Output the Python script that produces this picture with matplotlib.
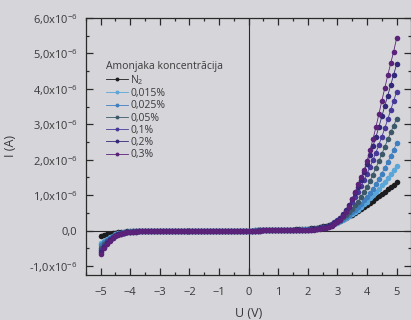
import numpy as np
import matplotlib
matplotlib.use('Agg')
import matplotlib.pyplot as plt

plt.rcParams['font.family'] = ['Open Sans', 'DejaVu Sans']
plt.rcParams['mathtext.fontset'] = 'custom'
plt.rcParams['mathtext.rm'] = 'Open Sans'

# voltage grid, -5.0 ... 5.0 V, step 0.1
U = np.round(np.arange(-50, 51) / 10, 1)

# current in 1e-6 A
I_N2 = [-0.16, -0.13, -0.11, -0.09, -0.07, -0.06, -0.05, -0.04, -0.03, -0.025,
        -0.02, -0.02, -0.015, -0.015, -0.01, -0.01, -0.01, -0.01, -0.005, -0.005,
        -0.005, -0.005, -0.005, -0.005, -0.005, -0.005, -0.005, -0.005, -0.005, -0.005,
        -0.005, -0.005, -0.005, 0.0, 0.0, 0.0, 0.0, 0.0, 0.0, 0.0,
        0.0, 0.0, 0.0, 0.0, 0.0, 0.0, 0.0, 0.0, 0.0, 0.0,
        0.0, 0.0, 0.005, 0.005, 0.005, 0.01, 0.01, 0.01, 0.015, 0.015,
        0.02, 0.02, 0.025, 0.025, 0.03, 0.03, 0.035, 0.04, 0.04, 0.045,
        0.05, 0.06, 0.07, 0.085, 0.10, 0.12, 0.14, 0.16, 0.19, 0.22,
        0.25, 0.28, 0.32, 0.36, 0.40, 0.44, 0.49, 0.55, 0.60, 0.66,
        0.72, 0.78, 0.84, 0.91, 0.97, 1.04, 1.10, 1.17, 1.23, 1.30,
        1.36]
I_0015 = [-0.36, -0.29, -0.23, -0.18, -0.14, -0.11, -0.08, -0.06, -0.045, -0.035,
          -0.025, -0.02, -0.02, -0.015, -0.015, -0.01, -0.01, -0.01, -0.01, -0.005,
          -0.005, -0.005, -0.005, -0.005, -0.005, -0.005, -0.005, -0.005, -0.005, -0.005,
          -0.005, -0.005, -0.005, -0.005, 0.0, 0.0, 0.0, 0.0, 0.0, 0.0,
          0.0, 0.0, 0.0, 0.0, 0.0, 0.0, 0.0, 0.0, 0.0, 0.0,
          0.0, 0.0, 0.005, 0.005, 0.005, 0.01, 0.01, 0.01, 0.01, 0.015,
          0.015, 0.02, 0.02, 0.02, 0.025, 0.025, 0.03, 0.03, 0.035, 0.035,
          0.04, 0.045, 0.055, 0.065, 0.08, 0.095, 0.11, 0.13, 0.16, 0.19,
          0.22, 0.26, 0.30, 0.35, 0.40, 0.46, 0.52, 0.59, 0.66, 0.74,
          0.82, 0.91, 1.00, 1.09, 1.18, 1.28, 1.38, 1.48, 1.59, 1.71,
          1.83]
I_0025 = [-0.42, -0.33, -0.26, -0.20, -0.155, -0.12, -0.09, -0.07, -0.05, -0.04,
          -0.03, -0.025, -0.02, -0.02, -0.015, -0.015, -0.01, -0.01, -0.01, -0.01,
          -0.005, -0.005, -0.005, -0.005, -0.005, -0.005, -0.005, -0.005, -0.005, -0.005,
          -0.005, -0.005, -0.005, -0.005, -0.005, 0.0, 0.0, 0.0, 0.0, 0.0,
          0.0, 0.0, 0.0, 0.0, 0.0, 0.0, 0.0, 0.0, 0.0, 0.0,
          0.0, 0.0, 0.0, 0.005, 0.005, 0.005, 0.01, 0.01, 0.01, 0.01,
          0.015, 0.015, 0.015, 0.02, 0.02, 0.02, 0.025, 0.025, 0.03, 0.03,
          0.035, 0.04, 0.05, 0.06, 0.075, 0.09, 0.11, 0.13, 0.16, 0.20,
          0.24, 0.28, 0.33, 0.39, 0.45, 0.52, 0.59, 0.67, 0.76, 0.85,
          0.95, 1.06, 1.18, 1.31, 1.46, 1.61, 1.77, 1.93, 2.10, 2.28,
          2.46]
I_005 = [-0.50, -0.39, -0.30, -0.23, -0.17, -0.13, -0.10, -0.075, -0.055, -0.04,
         -0.03, -0.025, -0.025, -0.02, -0.02, -0.015, -0.015, -0.01, -0.01, -0.01,
         -0.01, -0.01, -0.005, -0.005, -0.005, -0.005, -0.005, -0.005, -0.005, -0.005,
         -0.005, -0.005, -0.005, -0.005, -0.005, 0.0, 0.0, 0.0, 0.0, 0.0,
         0.0, 0.0, 0.0, 0.0, 0.0, 0.0, 0.0, 0.0, 0.0, 0.0,
         0.0, 0.0, 0.0, 0.005, 0.005, 0.005, 0.005, 0.01, 0.01, 0.01,
         0.01, 0.015, 0.015, 0.015, 0.02, 0.02, 0.02, 0.025, 0.025, 0.03,
         0.03, 0.04, 0.05, 0.06, 0.075, 0.09, 0.11, 0.14, 0.17, 0.21,
         0.26, 0.31, 0.37, 0.44, 0.52, 0.61, 0.71, 0.82, 0.95, 1.08,
         1.22, 1.40, 1.58, 1.77, 1.96, 2.16, 2.36, 2.57, 2.77, 2.96,
         3.15]
I_01 = [-0.55, -0.43, -0.33, -0.25, -0.19, -0.14, -0.105, -0.08, -0.06, -0.045,
        -0.035, -0.03, -0.025, -0.025, -0.02, -0.02, -0.015, -0.015, -0.01, -0.01,
        -0.01, -0.01, -0.01, -0.01, -0.005, -0.005, -0.005, -0.005, -0.005, -0.005,
        -0.005, -0.005, -0.005, -0.005, -0.005, -0.005, 0.0, 0.0, 0.0, 0.0,
        0.0, 0.0, 0.0, 0.0, 0.0, 0.0, 0.0, 0.0, 0.0, 0.0,
        0.0, 0.0, 0.0, 0.0, 0.005, 0.005, 0.005, 0.005, 0.01, 0.01,
        0.01, 0.01, 0.015, 0.015, 0.015, 0.02, 0.02, 0.02, 0.025, 0.025,
        0.03, 0.035, 0.045, 0.055, 0.07, 0.09, 0.11, 0.14, 0.18, 0.23,
        0.29, 0.36, 0.45, 0.55, 0.67, 0.80, 0.94, 1.09, 1.25, 1.42,
        1.60, 1.79, 1.99, 2.20, 2.42, 2.65, 2.89, 3.14, 3.40, 3.66,
        3.92]
I_02 = [-0.60, -0.47, -0.36, -0.27, -0.20, -0.15, -0.11, -0.085, -0.065, -0.05,
        -0.035, -0.03, -0.03, -0.025, -0.025, -0.02, -0.02, -0.015, -0.015, -0.015,
        -0.01, -0.01, -0.01, -0.01, -0.01, -0.01, -0.005, -0.005, -0.005, -0.005,
        -0.005, -0.005, -0.005, -0.005, -0.005, -0.005, -0.005, 0.0, 0.0, 0.0,
        0.0, 0.0, 0.0, 0.0, 0.0, 0.0, 0.0, 0.0, 0.0, 0.0,
        0.0, 0.0, 0.0, 0.0, 0.0, 0.005, 0.005, 0.005, 0.005, 0.01,
        0.01, 0.01, 0.01, 0.015, 0.015, 0.015, 0.015, 0.02, 0.02, 0.02,
        0.025, 0.03, 0.04, 0.05, 0.06, 0.075, 0.10, 0.13, 0.17, 0.22,
        0.28, 0.36, 0.46, 0.58, 0.72, 0.88, 1.05, 1.24, 1.44, 1.66,
        1.88, 2.12, 2.38, 2.64, 2.92, 3.22, 3.52, 3.81, 4.10, 4.40,
        4.69]
I_03 = [-0.65, -0.50, -0.38, -0.29, -0.22, -0.16, -0.12, -0.09, -0.07, -0.05,
        -0.04, -0.03, -0.03, -0.025, -0.025, -0.02, -0.02, -0.015, -0.015, -0.015,
        -0.015, -0.01, -0.01, -0.01, -0.01, -0.01, -0.01, -0.01, -0.005, -0.005,
        -0.005, -0.005, -0.005, -0.005, -0.005, -0.005, -0.005, -0.005, 0.0, 0.0,
        0.0, 0.0, 0.0, 0.0, 0.0, 0.0, 0.0, 0.0, 0.0, 0.0,
        0.0, 0.0, 0.0, 0.0, 0.0, 0.005, 0.005, 0.005, 0.005, 0.01,
        0.01, 0.01, 0.01, 0.01, 0.015, 0.015, 0.015, 0.015, 0.02, 0.02,
        0.02, 0.025, 0.03, 0.04, 0.05, 0.06, 0.08, 0.11, 0.14, 0.18,
        0.23, 0.31, 0.41, 0.53, 0.67, 0.88, 1.09, 1.31, 1.50, 1.70,
        1.96, 2.27, 2.57, 2.92, 3.28, 3.66, 4.02, 4.38, 4.72, 5.05,
        5.43]

labels = ['N$_2$', '0,015%', '0,025%', '0,05%', '0,1%', '0,2%', '0,3%']
series = [I_N2, I_0015, I_0025, I_005, I_01, I_02, I_03]
colors = ['#1c1c1e', '#5aa6d8', '#3f7fc0', '#3c5868', '#46399a', '#33277a', '#5a2278']

yticks = [-1, 0, 1, 2, 3, 4, 5, 6]
ytick_labels = ['-1,0x10$^{-6}$', '0,0', '1,0x10$^{-6}$', '2,0x10$^{-6}$',
                '3,0x10$^{-6}$', '4,0x10$^{-6}$', '5,0x10$^{-6}$', '6,0x10$^{-6}$']
xticks = [-5, -4, -3, -2, -1, 0, 1, 2, 3, 4, 5]

bg = '#d6d6da'
txt = '#3a3a3c'

fig = plt.figure(figsize=(4.11, 3.2), dpi=100, facecolor=bg)
ax = fig.add_axes([0.209, 0.141, 0.792, 0.803], facecolor=bg)

ax.axhline(0, color='#2a2a2a', lw=0.8, zorder=1)
ax.axvline(0, color='#2a2a2a', lw=0.8, zorder=1)

for lab, y, c in zip(labels, series, colors):
    ax.plot(U, y, '-o', color=c, lw=0.6, ms=4.0, mew=0, label=lab, zorder=3)

ax.set_xlim(-5.5, 5.5)
ax.set_ylim(-1.25, 6.0)
ax.set_xticks(xticks)
ax.set_xticks(np.arange(-5.5, 5.6, 0.5), minor=True)
ax.set_yticks(yticks)
ax.set_yticklabels(ytick_labels)
ax.set_yticks(np.arange(-1.0, 6.01, 0.5), minor=True)
ax.tick_params(which='both', direction='in', top=True, right=True,
               colors='#2a2a2a', labelcolor=txt, labelsize=8, width=0.9)
ax.tick_params(which='major', length=5, pad=6)
ax.tick_params(axis='x', which='major', pad=9)
ax.tick_params(which='minor', length=2.5)
for s in ax.spines.values():
    s.set_color('#2a2a2a')
    s.set_linewidth(0.9)

ax.set_xlabel('U (V)', fontsize=9, color=txt, labelpad=6)
ax.set_ylabel('I (A)', fontsize=9, color=txt, labelpad=9)

leg = ax.legend(loc='upper left', bbox_to_anchor=(0.062, 0.833), frameon=False,
                fontsize=7.5, title='Amonjaka koncentrācija', title_fontsize=7.5,
                handlelength=2.1, handletextpad=0.2, labelspacing=0.12,
                borderpad=0, borderaxespad=0, markerscale=0.7)
leg._legend_box.align = 'left'
for t in leg.get_texts():
    t.set_color(txt)
leg.get_title().set_color(txt)

fig.savefig('out.png', dpi=100, facecolor=bg)
